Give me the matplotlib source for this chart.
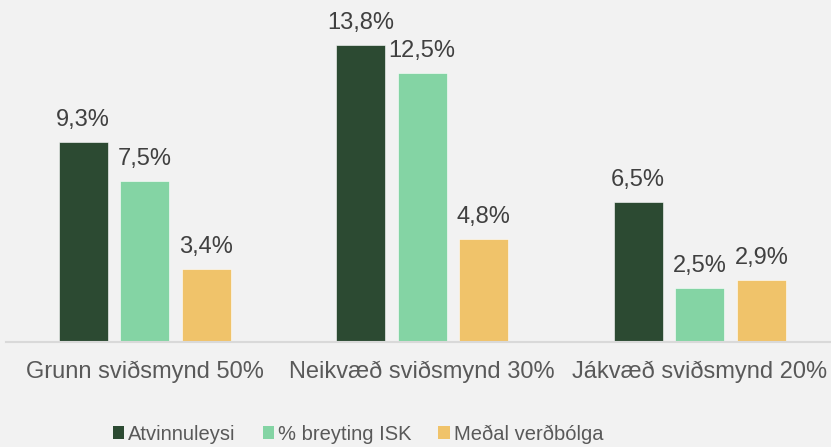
import numpy as np
import matplotlib
matplotlib.use("Agg")
import matplotlib.pyplot as plt
from matplotlib.patches import Patch

# --------- gögn ---------
categories = ["Grunn sviðsmynd 50%", "Neikvæð sviðsmynd 30%", "Jákvæð sviðsmynd 20%"]
series_names = ["Atvinnuleysi", "% breyting ISK", "Meðal verðbólga"]
atvinnuleysi = [9.3, 13.8, 6.5]
breyting_isk = [7.5, 12.5, 2.5]
verdbolga = [3.4, 4.8, 2.9]
colors = ["#2c4a32", "#84d4a4", "#f0c36a"]
# ------------------------

plt.rcParams["font.family"] = ["Liberation Sans", "DejaVu Sans"]
BG = "#f2f2f2"

fig = plt.figure(figsize=(8.31, 4.47), dpi=100, facecolor=BG)
ax = fig.add_axes([6 / 831, 1 - 342 / 447, 825 / 831, (342 - 19.5) / 447])
ax.set_facecolor(BG)

x = np.arange(len(categories))
width = 0.177
step = 0.222
values = [atvinnuleysi, breyting_isk, verdbolga]

for i, (vals, col) in enumerate(zip(values, colors)):
    pos = x + (i - 1) * step
    bars = ax.bar(pos, vals, width=width, color=col, edgecolor="#ffffff",
                  linewidth=0.4, zorder=2)
    for b, v in zip(bars, vals):
        ax.annotate(f"{v:.1f}%".replace(".", ","),
                    (b.get_x() + b.get_width() / 2, v),
                    xytext=(0, 8), textcoords="offset points",
                    ha="center", va="bottom", fontsize=17, color="#404040")

ax.set_xlim(-0.5, 2.473)
ax.set_ylim(0, 15)
ax.set_xticks(x)
ax.set_xticklabels(categories, fontsize=17, color="#595959")
ax.tick_params(axis="x", length=0, pad=13.5)
ax.set_yticks([])
for s in ["top", "right", "left"]:
    ax.spines[s].set_visible(False)
ax.spines["bottom"].set_color("#d9d9d9")
ax.spines["bottom"].set_linewidth(1.5)

# skýring - situr aðeins vinstra megin við miðju eins og í fyrirmynd
handles = [Patch(facecolor=c, edgecolor="none") for c in colors]
fig.legend(handles, series_names, loc="center", bbox_to_anchor=(358 / 831, 1 - 434 / 447),
           ncol=3, frameon=False, handlelength=0.55, handleheight=0.65,
           handletextpad=0.2, columnspacing=1.35, labelcolor="#595959",
           fontsize=14.5)

plt.savefig("out.png", dpi=100, facecolor=BG)
